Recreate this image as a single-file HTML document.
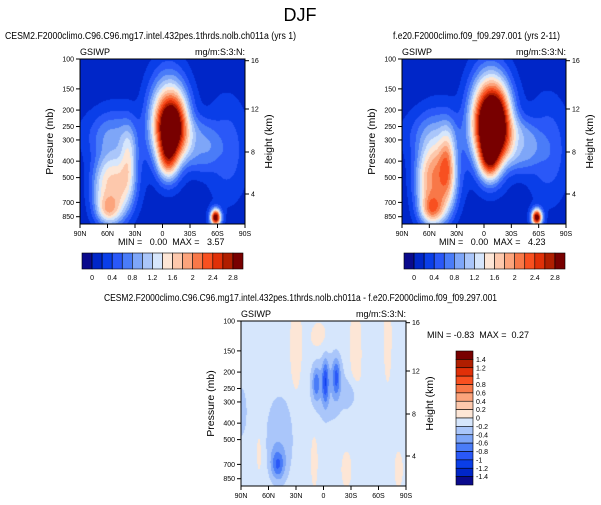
<!DOCTYPE html>
<html><head><meta charset="utf-8"><style>
html,body{margin:0;padding:0;background:#fff;width:601px;height:505px;overflow:hidden}
#wrap{position:relative;width:601px;height:505px}
canvas{position:absolute}
svg{position:absolute;left:0;top:0}
text{font-family:"Liberation Sans",sans-serif;fill:#000;white-space:pre}
</style></head><body>
<div id="wrap">
<canvas id="c1" width="165" height="165" style="left:80px;top:59px"></canvas>
<canvas id="c2" width="164" height="165" style="left:402px;top:59px"></canvas>
<canvas id="c3" width="165" height="165" style="left:241px;top:321px"></canvas>
<svg id="s" width="601" height="505"></svg>
</div>
<script>
const palette=["#0a0a8c","#0026c8","#0a3ee8","#2a58f8","#4a7cf8","#7ea6f8","#aac6fa","#d6e6fc","#fde6d6","#fdc8ac","#fca47c","#f87848","#f85020","#e03008","#b01e00","#780000"];
const topLevels=["0","0.4","0.8","1.2","1.6","2","2.4","2.8"];
const diffLevels=["1.4","1.2","1","0.8","0.6","0.4","0.2","0","-0.2","-0.4","-0.6","-0.8","-1","-1.2","-1.4"];
const pTicks=[100,150,200,250,300,400,500,700,850];
const hTicks=[16,12,8,4];
const hTickY=[1.7,50,93,135];
const latTicks=[-90,-60,-30,0,30,60,90];
const latLabels=["90N","60N","30N","0","30S","60S","90S"];
// blobs: amplitude, lat center, vertical center, lat sigma, vertical sigma, flatness power
const ctlAmp=[3.1,1.2,0.7,0.6,0.45,1.05,0.7,0.75,0.55,0.35,3.0];
const ctlLat=[9,6,6,40,70,-55,-60,-37,-50,-60,58];
const ctlV=[0.41,0.62,0.33,0.52,0.55,0.8,0.92,0.6,0.65,0.45,0.96];
const ctlSL=[12,8,20,16,15,17,9,6,22,20,4];
const ctlSV=[0.14,0.09,0.25,0.13,0.2,0.16,0.06,0.14,0.25,0.1,0.035];
const ctlPow=[1,1,1.5,1.5,1,1.5,1,1,1.5,1,1];
const tstAmp=[3.7,1.3,0.8,0.7,0.5,1.35,0.9,0.8,0.6,0.35,3.0];
const tstLat=[9,6,6,40,70,-53,-58,-40,-50,-60,58];
const tstV=[0.4,0.62,0.33,0.52,0.55,0.77,0.92,0.6,0.62,0.45,0.96];
const tstSL=[13,8,21,16,15,17,9,6,22,20,4];
const tstSV=[0.16,0.09,0.26,0.13,0.2,0.19,0.06,0.14,0.25,0.1,0.035];
const tstPow=[1,1,1.5,1.5,1,1.5,1,1,1.5,1,1];
const difAmp=[0.15,0.15,0.15,0.12,0.12,0.12,0.12,0.15,-0.5,-0.7,-0.6,-0.25,-0.25,-0.55,-0.28,-0.25];
const difLat=[-30,35,70,-70,-10,25,82,-5,-8,2,14,5,30,-50,-48,-90];
const difV=[0.15,0.2,0.1,0.8,0.85,0.9,0.9,0.1,0.38,0.37,0.34,0.4,0.45,0.87,0.72,0.55];
const difSL=[6,6,4,3,4,6,5,8,3,2.5,3,16,6,5,12,5];
const difSV=[0.25,0.3,0.25,0.12,0.18,0.12,0.12,0.08,0.07,0.09,0.08,0.18,0.06,0.06,0.22,0.12];
const difPow=[1.5,1.5,1.5,1,1,1,1,1,1,1,1,1.5,1,1,1.5,1];

function field(lat,v,A,L,V,SL,SV,P,base){let s=base;for(let i=0;i<A.length;i++){const dl=(lat-L[i])/SL[i],dv=(v-V[i])/SV[i];s+=A[i]*Math.exp(-0.5*Math.pow(dl*dl+dv*dv,P[i]));}return s;}
function paint(id,A,L,V,SL,SV,P,base,lo){
 const c=document.getElementById(id),ctx=c.getContext('2d'),w=c.width,h=c.height;
 for(let y=0;y<h;y++)for(let x=0;x<w;x++){
  const lat=-90+180*(x+0.5)/w,v=(y+0.5)/h;
  const val=field(lat,v,A,L,V,SL,SV,P,base);
  let k=Math.floor((val-lo)/0.2)+1;k=Math.max(0,Math.min(15,k));
  ctx.fillStyle=palette[k];ctx.fillRect(x,y,1,1);}
}
paint('c1',ctlAmp,ctlLat,ctlV,ctlSL,ctlSV,ctlPow,0.1,0);
paint('c2',tstAmp,tstLat,tstV,tstSL,tstSV,tstPow,0.1,0);
paint('c3',difAmp,difLat,difV,difSL,difSV,difPow,-0.08,-1.4);

const S=document.getElementById('s');const NS="http://www.w3.org/2000/svg";
function el(t,a,txt){const e=document.createElementNS(NS,t);for(const k in a)e.setAttribute(k,a[k]);if(txt!==undefined)e.textContent=txt;S.appendChild(e);return e;}
function T(x,y,s,size,anchor,name,extra){const e=el('text',Object.assign({x:x,y:y,'font-size':size,'text-anchor':anchor||'start'},extra||{}),s);

return e;}

T(300,21,'DJF',18,'middle','figure-title');

function panel(px,py,w,h,sub,subx,subLen,minmax,mmx,mmy,name){
 const pY=p=>py+(Math.log(p/100)/Math.log(8.5))*(h-7.3);
 const xL=l=>px+(l+90)/180*w;
 el('rect',{x:px,y:py,width:w,height:h,fill:'none',stroke:'#000','stroke-width':1,});
 pTicks.forEach(p=>{const y=pY(p);el('line',{x1:px-4,x2:px,y1:y,y2:y,stroke:'#000'});T(px-6,y+2.5,String(p),7,'end',name+'-pressure-tick');});
 hTicks.forEach((hv,i)=>{const y=py+hTickY[i];el('line',{x1:px+w,x2:px+w+4,y1:y,y2:y,stroke:'#000'});T(px+w+6,y+2.5,String(hv),7,'start',name+'-height-tick');});
 latTicks.forEach((l,i)=>{const x=xL(l);el('line',{x1:x,x2:x,y1:py+h,y2:py+h+4,stroke:'#000'});T(x,py+h+12,latLabels[i],7,'middle',name+'-lat-tick');});
 T(px-27,py+h/2,'Pressure (mb)',10.5,'middle',name+'-y-axis-title',{transform:`rotate(-90 ${px-27} ${py+h/2})`});
 T(px+w+27,py+h/2,'Height (km)',10.5,'middle',name+'-right-axis-title',{transform:`rotate(-90 ${px+w+27} ${py+h/2})`});
 T(px,py-4,'GSIWP',9,'start',name+'-variable-label');
 T(px+w,py-4,'mg/m:S:3:N:',9,'end',name+'-units-label');
 T(subx,py-20,sub,10,'start',name+'-subtitle',{textLength:subLen,lengthAdjust:'spacingAndGlyphs'});
 T(mmx,mmy,minmax,9,'start',name+'-min-max');
}
panel(80,59,165,165,'CESM2.F2000climo.C96.C96.mg17.intel.432pes.1thrds.nolb.ch011a (yrs 1)',5,291,'MIN =   0.00  MAX =   3.57',118,245,'control-panel');
panel(402,59,164,165,'f.e20.F2000climo.f09_f09.297.001 (yrs 2-11)',393,167,'MIN =   0.00  MAX =   4.23',439,245,'test-panel');
panel(241,321,165,165,'CESM2.F2000climo.C96.C96.mg17.intel.432pes.1thrds.nolb.ch011a - f.e20.F2000climo.f09_f09.297.001',104,393,'MIN = -0.83  MAX =  0.27',427,338,'diff-panel');

function hbar(x0,x1,y,hh,name){const bw=(x1-x0)/16;
 palette.forEach((c,i)=>{el('rect',{x:x0+i*bw,y:y,width:bw,height:hh,fill:c,stroke:'#000','stroke-width':0.6,});});
 topLevels.forEach((s,i)=>T(x0+(2*i+1)*bw,y+hh+11,s,7,'middle',name+'-label'));}
hbar(82,243,253,16,'control-colorbar');
hbar(404,565,253,16,'test-colorbar');
(function(){const x=456,w=17,y0=351,y1=485,bh=(y1-y0)/16;
 for(let i=0;i<16;i++){el('rect',{x:x,y:y0+i*bh,width:w,height:bh,fill:palette[15-i],stroke:'#000','stroke-width':0.6,});}
 diffLevels.forEach((s,i)=>T(x+w+3,y0+(i+1)*bh+2.5,s,7,'start','diff-colorbar-label'));})();
</script>
</body></html>
